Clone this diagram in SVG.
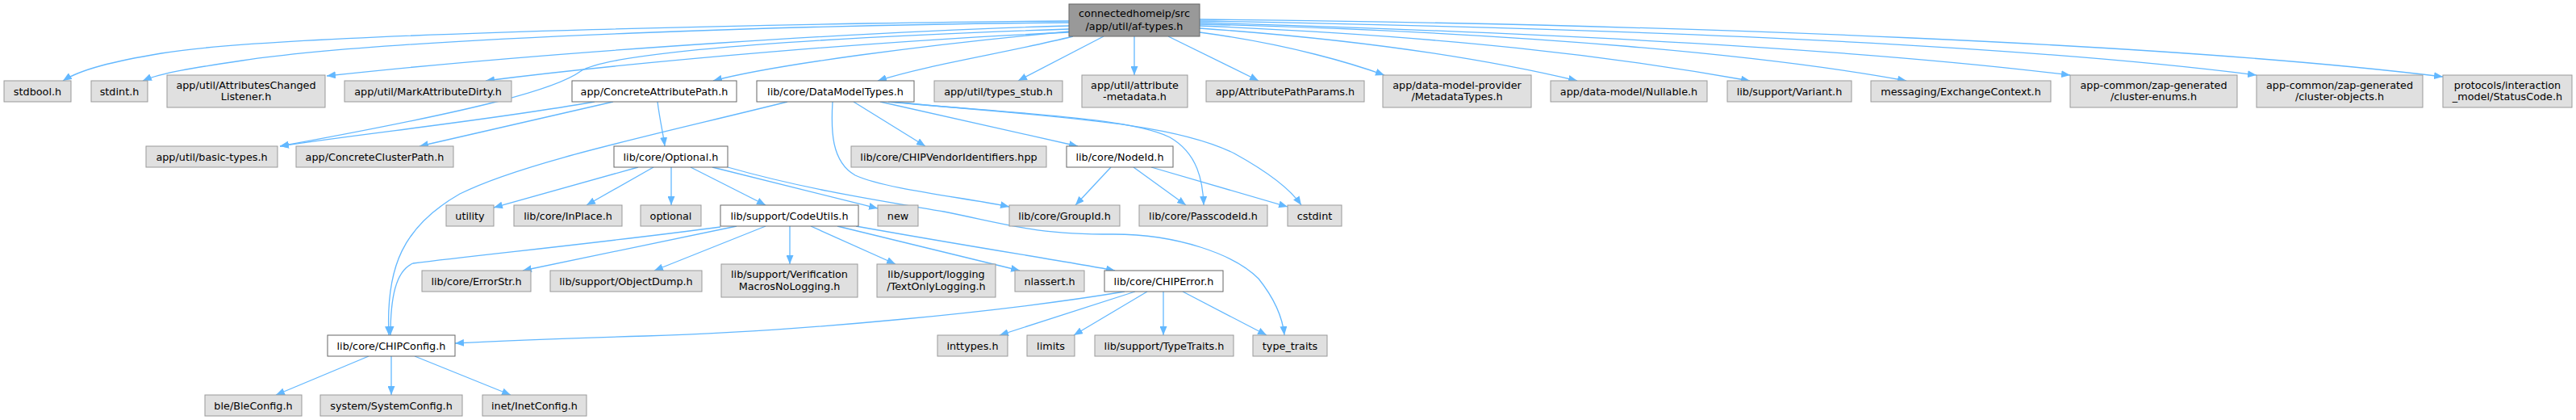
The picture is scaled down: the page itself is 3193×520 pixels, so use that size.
<svg xmlns="http://www.w3.org/2000/svg" width="3193" height="520" viewBox="0 0 3193 520">
<style>
.g rect{fill:#e0e0e0;stroke:#999999;stroke-width:1}
.w rect{fill:#ffffff;stroke:#666666;stroke-width:1}
.m rect{fill:#999999;stroke:#666666;stroke-width:1}
text{font-family:"DejaVu Sans","Liberation Sans",sans-serif;font-size:12.8px;fill:#000;text-anchor:middle}
#edges path{fill:none;stroke:#63b8ff;stroke-width:1.3;marker-end:url(#arr)}
</style>
<defs>
<marker id="arr" markerUnits="userSpaceOnUse" markerWidth="11" markerHeight="9" viewBox="0 0 11 9" refX="11" refY="4.5" orient="auto">
<path d="M0,0 L11,4.5 L0,9 z" fill="#63b8ff"/>
</marker>
</defs>
<rect width="3193" height="520" fill="#ffffff"/>
<g id="edges">
<path d="M1325,26 C1100,27 350,40 200,66 C140,76 100,86 78,100"/>
<path d="M1325,28 C1050,30 500,45 300,75 C240,84 200,90 177,100"/>
<path d="M1325,32 C1100,38 700,62 405,94"/>
<path d="M1325,40 C1100,50 800,75 602,100"/>
<path d="M1325,36 C1050,45 760,62 720,88 C690,110 600,135 347,181"/>
<path d="M1325,39 C1150,55 960,80 884,100"/>
<path d="M1330,45 C1250,65 1150,80 1088,100"/>
<path d="M1368,45 L1262,100"/>
<path d="M1406,45 L1406,93"/>
<path d="M1448,45 L1560,100"/>
<path d="M1487,40 C1600,55 1680,80 1716,93"/>
<path d="M1487,35 C1700,50 1850,75 1955,100"/>
<path d="M1487,32 C1800,45 2000,70 2169,100"/>
<path d="M1487,30 C1900,40 2200,70 2363,100"/>
<path d="M1487,28 C1900,40 2300,60 2566,93"/>
<path d="M1487,26 C2000,35 2500,55 2797,93"/>
<path d="M1487,24 C2100,30 2700,55 3028,95"/>
<path d="M737,126 C600,150 450,165 347,181"/>
<path d="M760,126 L520,181"/>
<path d="M815,126 C818,150 822,165 824,181"/>
<path d="M976,126 C820,165 650,200 570,240 C500,280 478,330 482,415"/>
<path d="M1032,126 C1030,160 1030,200 1060,217 C1100,235 1200,245 1251,256"/>
<path d="M1058,126 L1147,181"/>
<path d="M1091,126 L1336,181"/>
<path d="M1101,126 C1250,140 1400,145 1450,170 C1485,190 1491,225 1492,254"/>
<path d="M1106,126 C1300,145 1450,150 1530,190 C1570,212 1600,235 1613,254"/>
<path d="M1377,207 L1333,254"/>
<path d="M1405,207 L1470,254"/>
<path d="M1427,207 L1596,256"/>
<path d="M791,207 L612,257"/>
<path d="M810,207 L727,254"/>
<path d="M832,207 L832,254"/>
<path d="M856,207 L949,254"/>
<path d="M883,207 L1088,258"/>
<path d="M902,207 C1000,235 1100,250 1170,262 C1250,278 1280,290 1380,290 C1460,290 1530,315 1560,345 C1580,370 1590,395 1592,415"/>
<path d="M893,281 C750,300 600,315 512,326 C490,335 484,370 484,415"/>
<path d="M913,280 L648,335"/>
<path d="M949,280 L811,335"/>
<path d="M979,280 L979,327"/>
<path d="M1005,280 L1110,327"/>
<path d="M1038,280 L1264,335"/>
<path d="M1061,280 C1200,305 1330,325 1382,335"/>
<path d="M1394,361 C1250,385 1000,410 800,416 C700,419 620,422 564,425"/>
<path d="M1407,361 L1239,415"/>
<path d="M1422,361 L1331,415"/>
<path d="M1442,361 L1442,415"/>
<path d="M1466,361 L1570,415"/>
<path d="M457,441 L342,489"/>
<path d="M485,441 L485,489"/>
<path d="M514,441 L633,489"/>
</g>
<g id="n_main" class="m"><rect x="1325" y="5" width="162" height="40"/><text x="1406" y="21">connectedhomeip/src</text><text x="1406" y="36.5">/app/util/af-types.h</text></g>
<g id="n_stdbool" class="g"><rect x="5" y="100" width="83" height="26"/><text x="46.5" y="117.5">stdbool.h</text></g>
<g id="n_stdint" class="g"><rect x="113" y="100" width="70" height="26"/><text x="148" y="117.5">stdint.h</text></g>
<g id="n_acl" class="g"><rect x="207" y="93" width="196" height="40"/><text x="305" y="109.5">app/util/AttributesChanged</text><text x="305" y="124">Listener.h</text></g>
<g id="n_mad" class="g"><rect x="427" y="100" width="207" height="26"/><text x="530.5" y="117.5">app/util/MarkAttributeDirty.h</text></g>
<g id="n_cap" class="w"><rect x="709" y="100" width="204" height="26"/><text x="811" y="117.5">app/ConcreteAttributePath.h</text></g>
<g id="n_dmt" class="w"><rect x="938" y="100" width="195" height="26"/><text x="1035.5" y="117.5">lib/core/DataModelTypes.h</text></g>
<g id="n_stub" class="g"><rect x="1158" y="100" width="159" height="26"/><text x="1237.5" y="117.5">app/util/types_stub.h</text></g>
<g id="n_meta" class="g"><rect x="1341" y="93" width="131" height="40"/><text x="1406.5" y="109.5">app/util/attribute</text><text x="1406.5" y="124">-metadata.h</text></g>
<g id="n_app" class="g"><rect x="1495" y="100" width="196" height="26"/><text x="1593" y="117.5">app/AttributePathParams.h</text></g>
<g id="n_mdt" class="g"><rect x="1714" y="93" width="184" height="40"/><text x="1806" y="109.5">app/data-model-provider</text><text x="1806" y="124">/MetadataTypes.h</text></g>
<g id="n_null" class="g"><rect x="1922" y="100" width="194" height="26"/><text x="2019" y="117.5">app/data-model/Nullable.h</text></g>
<g id="n_var" class="g"><rect x="2141" y="100" width="154" height="26"/><text x="2218" y="117.5">lib/support/Variant.h</text></g>
<g id="n_ec" class="g"><rect x="2319" y="100" width="223" height="26"/><text x="2430.5" y="117.5">messaging/ExchangeContext.h</text></g>
<g id="n_enums" class="g"><rect x="2566" y="93" width="207" height="40"/><text x="2669.5" y="109.5">app-common/zap-generated</text><text x="2669.5" y="124">/cluster-enums.h</text></g>
<g id="n_objs" class="g"><rect x="2797" y="93" width="206" height="40"/><text x="2900" y="109.5">app-common/zap-generated</text><text x="2900" y="124">/cluster-objects.h</text></g>
<g id="n_status" class="g"><rect x="3028" y="93" width="160" height="40"/><text x="3108" y="109.5">protocols/interaction</text><text x="3108" y="124">_model/StatusCode.h</text></g>
<g id="n_basic" class="g"><rect x="181" y="181" width="163" height="26"/><text x="262.5" y="198.5">app/util/basic-types.h</text></g>
<g id="n_ccp" class="g"><rect x="367" y="181" width="195" height="26"/><text x="464.5" y="198.5">app/ConcreteClusterPath.h</text></g>
<g id="n_opt" class="w"><rect x="761" y="181" width="141" height="26"/><text x="831.5" y="198.5">lib/core/Optional.h</text></g>
<g id="n_vendor" class="g"><rect x="1055" y="181" width="242" height="26"/><text x="1176" y="198.5">lib/core/CHIPVendorIdentifiers.hpp</text></g>
<g id="n_nodeid" class="w"><rect x="1322" y="181" width="132" height="26"/><text x="1388" y="198.5">lib/core/NodeId.h</text></g>
<g id="n_utility" class="g"><rect x="553" y="254" width="59" height="26"/><text x="582.5" y="271.5">utility</text></g>
<g id="n_inplace" class="g"><rect x="637" y="254" width="134" height="26"/><text x="704" y="271.5">lib/core/InPlace.h</text></g>
<g id="n_optional" class="g"><rect x="794" y="254" width="75" height="26"/><text x="831.5" y="271.5">optional</text></g>
<g id="n_codeutils" class="w"><rect x="893" y="254" width="171" height="26"/><text x="978.5" y="271.5">lib/support/CodeUtils.h</text></g>
<g id="n_new" class="g"><rect x="1088" y="254" width="50" height="26"/><text x="1113" y="271.5">new</text></g>
<g id="n_groupid" class="g"><rect x="1251" y="254" width="137" height="26"/><text x="1319.5" y="271.5">lib/core/GroupId.h</text></g>
<g id="n_passcode" class="g"><rect x="1412" y="254" width="159" height="26"/><text x="1491.5" y="271.5">lib/core/PasscodeId.h</text></g>
<g id="n_cstdint" class="g"><rect x="1596" y="254" width="67" height="26"/><text x="1629.5" y="271.5">cstdint</text></g>
<g id="n_errorstr" class="g"><rect x="523" y="335" width="135" height="26"/><text x="590.5" y="352.5">lib/core/ErrorStr.h</text></g>
<g id="n_objdump" class="g"><rect x="682" y="335" width="188" height="26"/><text x="776" y="352.5">lib/support/ObjectDump.h</text></g>
<g id="n_verif" class="g"><rect x="894" y="327" width="169" height="41"/><text x="978.5" y="344">lib/support/Verification</text><text x="978.5" y="358.5">MacrosNoLogging.h</text></g>
<g id="n_textonly" class="g"><rect x="1087" y="327" width="147" height="41"/><text x="1160.5" y="344">lib/support/logging</text><text x="1160.5" y="358.5">/TextOnlyLogging.h</text></g>
<g id="n_nlassert" class="g"><rect x="1258" y="335" width="86" height="26"/><text x="1301" y="352.5">nlassert.h</text></g>
<g id="n_chiperror" class="w"><rect x="1369" y="335" width="147" height="26"/><text x="1442.5" y="352.5">lib/core/CHIPError.h</text></g>
<g id="n_chipconfig" class="w"><rect x="406" y="415" width="158" height="26"/><text x="485" y="432.5">lib/core/CHIPConfig.h</text></g>
<g id="n_inttypes" class="g"><rect x="1162" y="415" width="87" height="26"/><text x="1205.5" y="432.5">inttypes.h</text></g>
<g id="n_limits" class="g"><rect x="1273" y="415" width="59" height="26"/><text x="1302.5" y="432.5">limits</text></g>
<g id="n_typetraits" class="g"><rect x="1357" y="415" width="172" height="26"/><text x="1443" y="432.5">lib/support/TypeTraits.h</text></g>
<g id="n_type_traits" class="g"><rect x="1553" y="415" width="92" height="26"/><text x="1599" y="432.5">type_traits</text></g>
<g id="n_ble" class="g"><rect x="254" y="489" width="120" height="26"/><text x="314" y="506.5">ble/BleConfig.h</text></g>
<g id="n_sysconfig" class="g"><rect x="397" y="489" width="176" height="26"/><text x="485" y="506.5">system/SystemConfig.h</text></g>
<g id="n_inet" class="g"><rect x="598" y="489" width="129" height="26"/><text x="662.5" y="506.5">inet/InetConfig.h</text></g>
</svg>
